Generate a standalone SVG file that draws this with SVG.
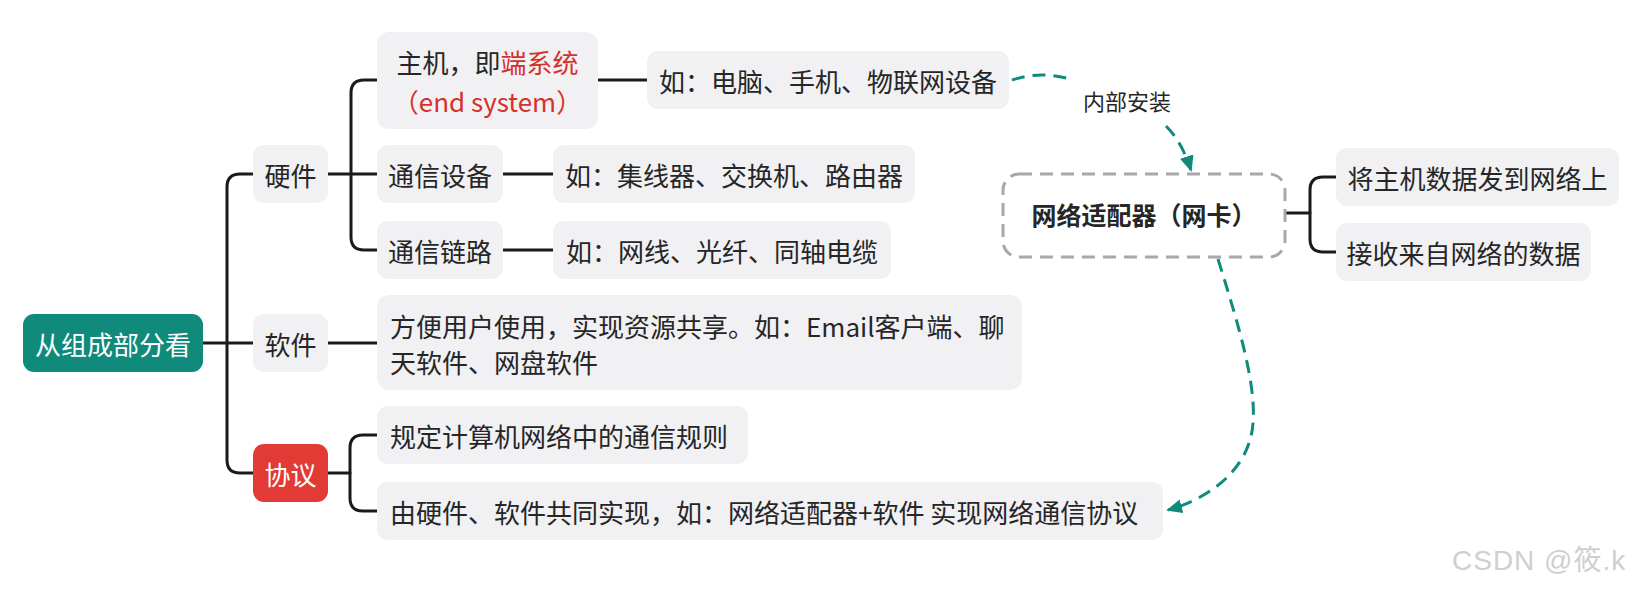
<svg xmlns="http://www.w3.org/2000/svg" width="1652" height="591" viewBox="0 0 1652 591">
<style>
text{font-family:"Noto Sans CJK SC","Noto Sans",sans-serif;font-size:26px;fill:#262626;dominant-baseline:central}
.c{text-anchor:middle}
.box{fill:#f1f0f3}
.ln{fill:none;stroke:#1a1a1a;stroke-width:3;stroke-linecap:round}
.dash{fill:none;stroke:#0f8a7b;stroke-width:3;stroke-dasharray:13 8}
.w{fill:#ffffff}
.r{fill:#d6302b}
</style>
<defs>
<marker id="ah" markerUnits="userSpaceOnUse" markerWidth="18" markerHeight="16" refX="14" refY="8" orient="auto">
<path d="M0,1 L16,8 L0,15 Z" fill="#0f8a7b"/>
</marker>
</defs>
<rect width="1652" height="591" fill="#ffffff"/>

<g id="connectors">
<path class="ln" d="M203 343 H253"/>
<path class="ln" d="M253 174 H240 Q227 174 227 187 V460 Q227 473 240 473 H253"/>
<path class="ln" d="M328 174 H377"/>
<path class="ln" d="M377 80 H364 Q351 80 351 93 V237 Q351 250 364 250 H377"/>
<path class="ln" d="M328 343 H377"/>
<path class="ln" d="M328 473 H350"/>
<path class="ln" d="M377 435 H363 Q350 435 350 448 V498 Q350 511 363 511 H377"/>
<path class="ln" d="M598 80 H647"/>
<path class="ln" d="M503 174 H553"/>
<path class="ln" d="M503 250 H553"/>
<path class="ln" d="M1286 213 H1310"/>
<path class="ln" d="M1336 177 H1323 Q1310 177 1310 190 V239 Q1310 252 1323 252 H1336"/>
<path class="dash" d="M1012 80 Q1042 70 1073 80"/>
<path class="dash" d="M1166 126 Q1182 142 1191 170" marker-end="url(#ah)"/>
<path class="dash" d="M1218 259 C1240 330 1262 400 1250 440 C1240 475 1205 500 1168 510" marker-end="url(#ah)"/>
<text class="c" x="1127" y="100" style="font-size:22px">内部安装</text>
</g>

<g id="root">
<rect x="23" y="314" width="180" height="58" rx="11" fill="#0f8a7b"/>
<text class="c w" x="113" y="343">从组成部分看</text>
</g>

<g id="hardware">
<rect class="box" x="253" y="145" width="75" height="58" rx="11"/>
<text class="c" x="290.5" y="174">硬件</text>
</g>
<g id="software">
<rect class="box" x="253" y="314" width="75" height="58" rx="11"/>
<text class="c" x="290.5" y="343">软件</text>
</g>
<g id="protocol">
<rect x="253" y="444" width="75" height="58" rx="11" fill="#e23a35"/>
<text class="c w" x="290.5" y="473">协议</text>
</g>

<g id="host">
<rect class="box" x="377" y="32" width="221" height="97" rx="12"/>
<text class="c" x="487.5" y="61">主机，即<tspan class="r">端系统</tspan></text>
<text class="c r" x="487.5" y="100">（end system）</text>
</g>
<g id="comm-device">
<rect class="box" x="377" y="145" width="126" height="58" rx="11"/>
<text class="c" x="440" y="174">通信设备</text>
</g>
<g id="comm-link">
<rect class="box" x="377" y="221" width="126" height="58" rx="11"/>
<text class="c" x="440" y="250">通信链路</text>
</g>

<g id="host-examples">
<rect class="box" x="647" y="51" width="362" height="58" rx="11"/>
<text class="c" x="828" y="80">如：电脑、手机、物联网设备</text>
</g>
<g id="device-examples">
<rect class="box" x="553" y="145" width="362" height="58" rx="11"/>
<text class="c" x="734" y="174">如：集线器、交换机、路由器</text>
</g>
<g id="link-examples">
<rect class="box" x="553" y="221" width="338" height="58" rx="11"/>
<text class="c" x="722" y="250">如：网线、光纤、同轴电缆</text>
</g>

<g id="software-desc">
<rect class="box" x="377" y="295" width="645" height="95" rx="12"/>
<text x="390" y="325">方便用户使用，实现资源共享。如：Email客户端、聊</text>
<text x="390" y="361">天软件、网盘软件</text>
</g>

<g id="protocol-rule">
<rect class="box" x="377" y="406" width="371" height="58" rx="11"/>
<text x="390" y="435">规定计算机网络中的通信规则</text>
</g>
<g id="protocol-impl">
<rect class="box" x="377" y="482" width="786" height="58" rx="11"/>
<text x="390" y="511">由硬件、软件共同实现，如：网络适配器+软件 实现网络通信协议</text>
</g>

<g id="nic">
<rect x="1003" y="174" width="282" height="83" rx="16" fill="#ffffff" stroke="#a8a8a8" stroke-width="3" stroke-dasharray="13 8"/>
<text class="c" x="1144" y="214" style="font-weight:bold;font-size:25px">网络适配器（网卡）</text>
</g>
<g id="nic-send">
<rect class="box" x="1336" y="148" width="283" height="58" rx="11"/>
<text class="c" x="1477.5" y="177">将主机数据发到网络上</text>
</g>
<g id="nic-recv">
<rect class="box" x="1336" y="223" width="255" height="58" rx="11"/>
<text class="c" x="1463.5" y="252">接收来自网络的数据</text>
</g>

<text x="1452" y="560" style="font-family:'Liberation Sans','Noto Sans CJK SC',sans-serif;font-size:28px;fill:#cfcfcf;letter-spacing:1px">CSDN @筱.k</text>
</svg>
